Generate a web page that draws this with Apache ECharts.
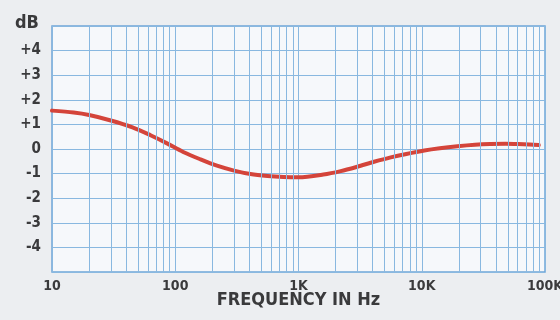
<!DOCTYPE html>
<html><head><meta charset="utf-8">
<script src="https://cdn.jsdelivr.net/npm/echarts@6/dist/echarts.min.js"></script>
<style>html,body{margin:0;padding:0;background:#eceef1;}#c{width:560px;height:320px;}</style>
</head><body><div id="c"></div>
<script>
const freqs = [10, 15, 20, 30, 45, 63, 85, 116, 160, 218, 300, 407, 560, 755, 1000, 1590, 2200, 3000, 4100, 5600, 7500, 10500, 14000, 19500, 27000, 36000, 48000, 60000, 75000, 89000];
const dbValues = [1.56, 1.48, 1.38, 1.16, 0.88, 0.56, 0.24, -0.12, -0.42, -0.68, -0.88, -1.02, -1.1, -1.14, -1.15, -1.04, -0.9, -0.72, -0.52, -0.34, -0.2, -0.06, 0.03, 0.11, 0.17, 0.2, 0.21, 0.2, 0.18, 0.16];
const xTickLabels = {10: '10', 100: '100', 1000: '1K', 10000: '10K', 100000: '100K'};
const yTickLabels = {4: '+4', 3: '+3', 2: '+2', 1: '+1', 0: '0', '-1': '-1', '-2': '-2', '-3': '-3', '-4': '-4'};
const minorFreqs = [];
[10, 100, 1000, 10000].forEach(d => { for (let k = 2; k <= 9; k++) minorFreqs.push(d * k); });

const font = '"DejaVu Sans Condensed", "Liberation Sans Narrow", sans-serif';
const gridColor = '#89b8e0';
const textColor = '#3a3a3c';
const chart = echarts.init(document.getElementById('c'));
chart.setOption({
  backgroundColor: '#eceef1',
  animation: false,
  title: { text: 'dB', left: 10, top: 9, textStyle: { fontFamily: font, fontWeight: 'bold', fontSize: 18, color: textColor } },
  grid: { left: 52, right: 15, top: 26, bottom: 48, outerBoundsMode: 'none', containLabel: false, show: true, backgroundColor: '#f6f8fb', borderColor: '#6fa5d8', borderWidth: 1.5 },
  xAxis: {
    type: 'log', logBase: 10, min: 10, max: 100000,
    axisLine: { show: false }, axisTick: { show: false },
    splitLine: { show: true, lineStyle: { color: gridColor, width: 1 } },
    axisLabel: { formatter: v => xTickLabels[Math.round(v)] || '', fontFamily: font, fontWeight: 'bold', fontSize: 14, color: textColor, margin: 7 },
    name: 'FREQUENCY IN Hz', nameLocation: 'middle', nameGap: 19, nameMoveOverlap: false,
    nameTextStyle: { fontFamily: font, fontWeight: 'bold', fontSize: 18, color: textColor }
  },
  yAxis: {
    type: 'value', min: -5, max: 5, interval: 1,
    axisLine: { show: false }, axisTick: { show: false },
    splitLine: { show: true, lineStyle: { color: gridColor, width: 1 } },
    axisLabel: { formatter: v => yTickLabels[String(v)] || '', fontFamily: font, fontWeight: 'bold', fontSize: 15, color: textColor, margin: 11 }
  },
  series: [
    {
      type: 'line', data: [], silent: true,
      markLine: { silent: true, symbol: 'none', label: { show: false },
        lineStyle: { color: gridColor, width: 1, type: 'solid' },
        data: minorFreqs.map(f => ({ xAxis: f })) }
    },
    {
      type: 'line', smooth: 0.3, showSymbol: false,
      data: freqs.map((f, i) => [f, dbValues[i]]),
      lineStyle: { color: '#d4443a', width: 4, cap: 'round' }
    }
  ]
});
</script></body></html>
